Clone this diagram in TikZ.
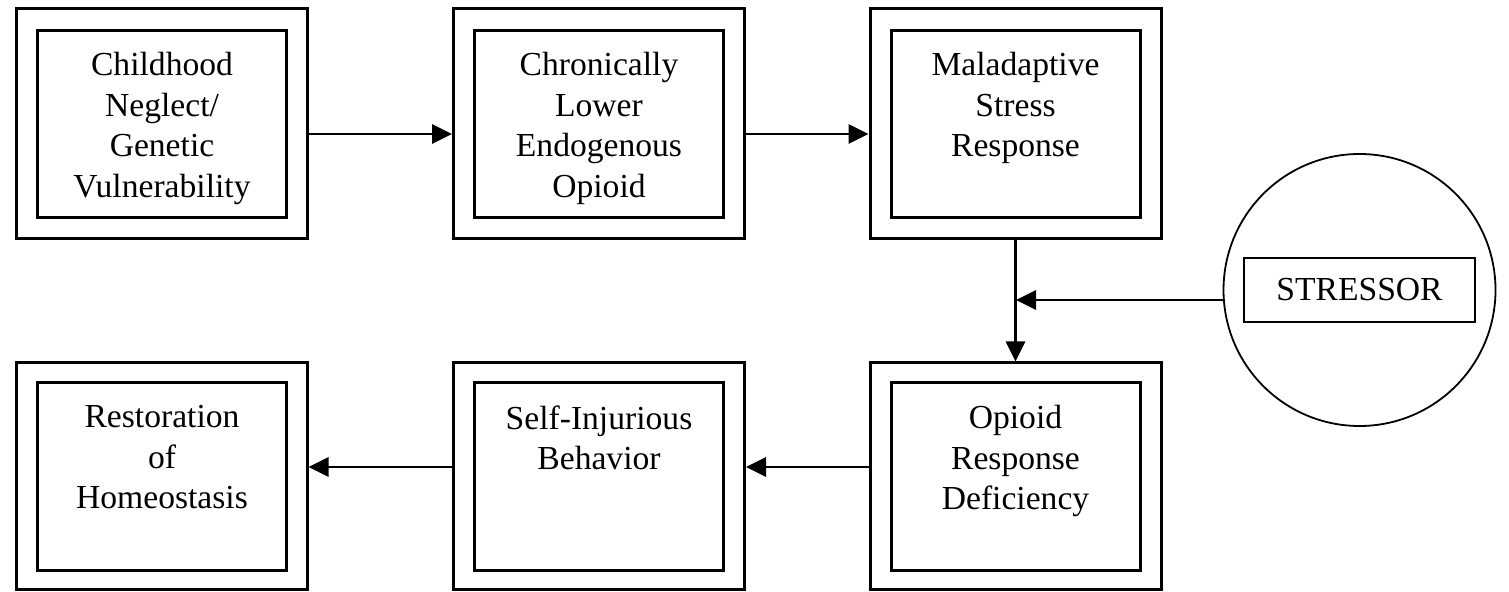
\documentclass[tikz,border=0pt]{standalone}
\usepackage{fontspec}
\setmainfont{Liberation Serif}
\usetikzlibrary{arrows.meta}
\begin{document}
\begin{tikzpicture}[x=0.5pt,y=-0.5pt,
  outerbox/.style={draw, line width=1.5pt, minimum width=145.5pt, inner sep=0pt},
  innerbox/.style={draw, line width=1.5pt, minimum width=124.5pt, minimum height=93.5pt, inner sep=0pt},
  toprow/.style={minimum height=115pt},
  botrow/.style={minimum height=113pt},
  lbl/.style={anchor=north, inner sep=0pt, align=center, font=\fontsize{16.8}{20.25}\selectfont},
  arr/.style={line width=1.4pt, -{Triangle[length=10pt,width=9.5pt]}}]
\path[fill=white] (0,0) rectangle (1509,592);
% top row
\node[outerbox,toprow] (b1) at (161.5,124) {};
\node[innerbox] (i1) at (162,124.5) {};
\node[lbl] (t1) at (162,52) {Childhood\\Neglect/\\Genetic\\Vulnerability};
\node[outerbox,toprow] (b2) at (599,124) {};
\node[innerbox] (i2) at (599,124.5) {};
\node[lbl] (t2) at (599,52) {Chronically\\Lower\\Endogenous\\Opioid};
\node[outerbox,toprow] (b3) at (1015.5,124) {};
\node[innerbox] (i3) at (1015.5,124.5) {};
\node[lbl] (t3) at (1015.5,52) {Maladaptive\\Stress\\Response};
% bottom row
\node[outerbox,botrow] (b4) at (161.5,476) {};
\node[innerbox] (i4) at (162,476.5) {};
\node[lbl] (t4) at (162,405) {Restoration\\of\\Homeostasis};
\node[outerbox,botrow] (b5) at (599,476) {};
\node[innerbox] (i5) at (599,476.5) {};
\node[lbl] (t5) at (599,405) {Self-Injurious\\Behavior};
\node[outerbox,botrow] (b6) at (1015.5,476) {};
\node[innerbox] (i6) at (1015.5,476.5) {};
\node[lbl] (t6) at (1015.5,405) {Opioid\\Response\\Deficiency};
% stressor
\node[draw, circle, line width=0.9pt, minimum size=136pt, inner sep=0pt] (circ) at (1359.5,290) {};
\node[draw, line width=1.2pt, minimum width=115.5pt, minimum height=32pt, inner sep=0pt,
      font=\fontsize{16.8}{20.25}\selectfont] (stress) at (1359.5,290) {STRESSOR};
\coordinate (join) at (1016,300);
% connectors
\draw[arr] ([yshift=-5pt]b1.east) -- ([yshift=-5pt]b2.west);
\draw[arr] ([yshift=-5pt]b2.east) -- ([yshift=-5pt]b3.west);
\draw[arr] (b3.south) -- (b6.north);
\draw[arr] (circ.west |- join) -- (join);
\draw[arr] ([yshift=4.5pt]b6.west) -- ([yshift=4.5pt]b5.east);
\draw[arr] ([yshift=4.5pt]b5.west) -- ([yshift=4.5pt]b4.east);
\end{tikzpicture}
\end{document}
